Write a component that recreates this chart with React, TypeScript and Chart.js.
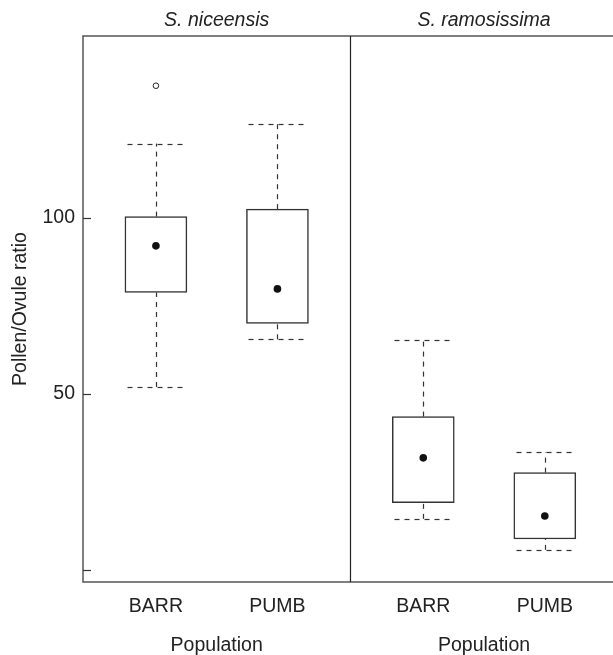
import React, { useEffect, useRef } from "react";
import { Chart, registerables } from "chart.js";

Chart.register(...registerables);

// ---- data ----
const panels = ["S. niceensis", "S. ramosissima"];
const categories = ["BARR", "PUMB"];
const xAxisTitle = "Population";
const yAxisTitle = "Pollen/Ovule ratio";
const yTickValues = [0, 50, 100];
const yTickLabels = ["", "50", "100"];

const niceWhiskerLow = [52, 65.5];
const niceQ1 = [78.8, 70];
const niceMedian = [92, 79.8];
const niceQ3 = [100.3, 102.4];
const niceWhiskerHigh = [121, 126.5];
const niceOutliers = [[137.4], []];

const ramoWhiskerLow = [14.6, 5.8];
const ramoQ1 = [19.2, 8.9];
const ramoMedian = [31.9, 15.4];
const ramoQ3 = [43.6, 27.7];
const ramoWhiskerHigh = [65.3, 33.5];
const ramoOutliers: number[][] = [[], []];

const FONT = '"Liberation Sans", Arial, Helvetica, sans-serif';
const FS = 19.5;
const PANEL_SPAN = 2.2; // each panel spans 0.4..2.6 in category units

type Box = { x: number; lo: number; q1: number; med: number; q3: number; hi: number; out: number[] };

function buildBoxes(): Box[] {
  const series = [
    [niceWhiskerLow, niceQ1, niceMedian, niceQ3, niceWhiskerHigh, niceOutliers],
    [ramoWhiskerLow, ramoQ1, ramoMedian, ramoQ3, ramoWhiskerHigh, ramoOutliers],
  ] as any[];
  const boxes: Box[] = [];
  series.forEach((s, p) => {
    categories.forEach((_, c) => {
      boxes.push({
        x: p * PANEL_SPAN + c + 1,
        lo: s[0][c],
        q1: s[1][c],
        med: s[2][c],
        q3: s[3][c],
        hi: s[4][c],
        out: s[5][c],
      });
    });
  });
  return boxes;
}

export default function App() {
  const ref = useRef<HTMLCanvasElement | null>(null);

  useEffect(() => {
    if (!ref.current) return;
    const boxes = buildBoxes();

    const lattice = {
      id: "lattice",
      beforeDatasetsDraw(chart: any) {
        const { ctx, scales } = chart;
        const xs = scales.x;
        const ys = scales.y;
        ctx.save();
        // whiskers
        ctx.strokeStyle = "#333";
        ctx.lineWidth = 1.2;
        ctx.setLineDash([5, 5]);
        boxes.forEach((b) => {
          const cx = Math.round(xs.getPixelForValue(b.x)) + 0.5;
          const half = 29;
          const segs = [
            [b.lo, b.q1],
            [b.q3, b.hi],
          ];
          segs.forEach(([v1, v2]) => {
            ctx.beginPath();
            ctx.moveTo(cx, ys.getPixelForValue(v1));
            ctx.lineTo(cx, ys.getPixelForValue(v2));
            ctx.stroke();
          });
          [b.lo, b.hi].forEach((v) => {
            const y = Math.round(ys.getPixelForValue(v)) + 0.5;
            ctx.beginPath();
            ctx.moveTo(cx - half, y);
            ctx.lineTo(cx + half, y);
            ctx.stroke();
          });
        });
        ctx.restore();
      },
      afterDraw(chart: any) {
        const { ctx, chartArea: a, scales } = chart;
        const xs = scales.x;
        const ys = scales.y;
        ctx.save();
        // frame
        ctx.strokeStyle = "#555";
        ctx.lineWidth = 1.5;
        ctx.beginPath();
        ctx.moveTo(a.right + 10, a.top);
        ctx.lineTo(a.left, a.top);
        ctx.lineTo(a.left, a.bottom);
        ctx.lineTo(a.right + 10, a.bottom);
        ctx.stroke();
        // divider
        const dx = Math.round(xs.getPixelForValue(PANEL_SPAN + 0.4)) + 0.5;
        ctx.strokeStyle = "#222";
        ctx.lineWidth = 1.2;
        ctx.beginPath();
        ctx.moveTo(dx, a.top);
        ctx.lineTo(dx, a.bottom);
        ctx.stroke();
        // inward y ticks
        ctx.strokeStyle = "#333";
        ctx.lineWidth = 1.2;
        yTickValues.forEach((v) => {
          const y = Math.round(ys.getPixelForValue(v)) + 0.5;
          ctx.beginPath();
          ctx.moveTo(a.left, y);
          ctx.lineTo(a.left + 8, y);
          ctx.stroke();
        });
        // texts
        ctx.fillStyle = "#222";
        ctx.textAlign = "center";
        ctx.textBaseline = "alphabetic";
        panels.forEach((name, p) => {
          const left = xs.getPixelForValue(p * PANEL_SPAN + 0.4);
          const right = xs.getPixelForValue(p * PANEL_SPAN + 2.6);
          const cx = (left + right) / 2;
          ctx.font = `italic ${FS}px ${FONT}`;
          ctx.fillText(name, cx, 26);
          ctx.font = `${FS}px ${FONT}`;
          ctx.fillText(xAxisTitle, cx, 651);
          categories.forEach((cat, c) => {
            ctx.fillText(cat, xs.getPixelForValue(p * PANEL_SPAN + c + 1), 612);
          });
        });
        ctx.restore();
      },
    };

    const chart = new Chart(ref.current, {
      type: "bar",
      data: {
        datasets: [
          {
            type: "bar",
            order: 3,
            data: boxes.map((b) => ({ x: b.x, y: [b.q1, b.q3] })) as any,
            backgroundColor: "#ffffff",
            borderColor: "#333",
            borderWidth: 1.5,
            borderSkipped: false,
            barThickness: 62,
          } as any,
          {
            type: "scatter",
            order: 1,
            data: boxes.map((b) => ({ x: b.x, y: b.med })),
            pointRadius: 3.8,
            pointBackgroundColor: "#111",
            pointBorderColor: "#111",
            pointBorderWidth: 0,
          } as any,
          {
            type: "scatter",
            order: 0,
            data: boxes.flatMap((b) => b.out.map((v) => ({ x: b.x, y: v }))),
            pointRadius: 2.8,
            pointBackgroundColor: "#fff",
            pointBorderColor: "#222",
            pointBorderWidth: 1,
          } as any,
        ],
      },
      options: {
        animation: false,
        responsive: false,
        devicePixelRatio: 1,
        layout: { padding: { top: 36, bottom: 73, left: 0, right: 0 } },
        plugins: { legend: { display: false }, tooltip: { enabled: false }, title: { display: false } },
        scales: {
          x: {
            type: "linear",
            min: 0.4,
            max: 4.72,
            offset: false,
            display: false,
          },
          y: {
            type: "linear",
            min: -3.3,
            max: 151.5,
            grid: { display: false, drawTicks: false },
            border: { display: false },
            afterBuildTicks: (scale: any) => {
              scale.ticks = yTickValues.map((v) => ({ value: v }));
            },
            afterFit: (scale: any) => {
              scale.width = 83;
            },
            ticks: {
              padding: 8,
              color: "#222",
              font: { family: FONT, size: FS },
              callback: (v: any) => {
                const i = yTickValues.indexOf(Number(v));
                return i >= 0 ? yTickLabels[i] : "";
              },
            },
            title: {
              display: true,
              text: yAxisTitle,
              color: "#222",
              font: { family: FONT, size: FS },
              padding: { top: 9, bottom: 0 },
            },
          },
        },
      },
      plugins: [lattice as any],
    });
    return () => chart.destroy();
  }, []);

  return (
    <div style={{ position: "fixed", left: 0, top: 0, width: 613, height: 655, background: "#fff" }}>
      <canvas ref={ref} width={613} height={655} style={{ display: "block" }} />
    </div>
  );
}
